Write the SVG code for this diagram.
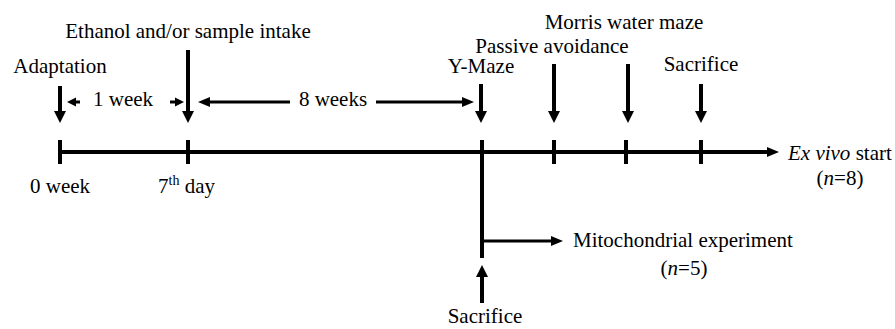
<svg xmlns="http://www.w3.org/2000/svg" xmlns:xlink="http://www.w3.org/1999/xlink" width="895" height="329" viewBox="0 0 895 329">
<style>
text{font-family:"Liberation Serif","Times New Roman",serif;font-size:21px;fill:#000}
.m{text-anchor:middle}
.ln{stroke:#000;stroke-width:4;fill:none}
.th{stroke:#000;stroke-width:3;fill:none}
.ah{fill:#000}
</style>
<defs>
<polygon id="ahd" class="ah" points="0,0 -6,-12 6,-12"/>
<polygon id="ahu" class="ah" points="0,0 -6,12 6,12"/>
<polygon id="ahr" class="ah" points="0,0 -12,-5 -12,5"/>
<polygon id="ahl" class="ah" points="0,0 12,-5 12,5"/>
<polygon id="ahrs" class="ah" points="0,0 -9,-4.5 -9,4.5"/>
<polygon id="ahls" class="ah" points="0,0 9,-4.5 9,4.5"/>
</defs>
<g id="connectors">
<line class="ln" x1="60" y1="152" x2="767" y2="152"/>
<use xlink:href="#ahr" x="779" y="152"/>
<line class="ln" x1="60" y1="140" x2="60" y2="164"/>
<line class="ln" x1="188" y1="140" x2="188" y2="164"/>
<line class="ln" x1="482" y1="140" x2="482" y2="258"/>
<line class="ln" x1="554" y1="140" x2="554" y2="164"/>
<line class="ln" x1="626" y1="140" x2="626" y2="164"/>
<line class="ln" x1="701" y1="140" x2="701" y2="164"/>
<line class="ln" x1="60" y1="86" x2="60" y2="112"/>
<use xlink:href="#ahd" x="60" y="123"/>
<line class="ln" x1="188" y1="50" x2="188" y2="112"/>
<use xlink:href="#ahd" x="188" y="123"/>
<line class="ln" x1="481" y1="84" x2="481" y2="112"/>
<use xlink:href="#ahd" x="481" y="123"/>
<line class="ln" x1="554" y1="64" x2="554" y2="112"/>
<use xlink:href="#ahd" x="554" y="123"/>
<line class="ln" x1="628" y1="64" x2="628" y2="112"/>
<use xlink:href="#ahd" x="628" y="123"/>
<line class="ln" x1="701" y1="84" x2="701" y2="112"/>
<use xlink:href="#ahd" x="701" y="123"/>
<line class="th" x1="75" y1="102" x2="80" y2="102"/>
<use xlink:href="#ahls" x="67" y="102"/>
<line class="th" x1="170" y1="102" x2="176" y2="102"/>
<use xlink:href="#ahrs" x="184" y="102"/>
<line class="th" x1="208" y1="102" x2="290" y2="102"/>
<use xlink:href="#ahl" x="198" y="102"/>
<line class="th" x1="376" y1="102" x2="463" y2="102"/>
<use xlink:href="#ahr" x="474" y="102"/>
<line class="th" x1="482" y1="241" x2="552" y2="241"/>
<use xlink:href="#ahr" x="563" y="241"/>
<line class="ln" x1="482" y1="276" x2="482" y2="303"/>
<use xlink:href="#ahu" x="482" y="265"/>
</g>
<g id="adaptation"><text class="m" x="60" y="73">Adaptation</text></g>
<g id="ethanol"><text class="m" x="188" y="38">Ethanol and/or sample intake</text></g>
<g id="ymaze"><text class="m" x="481" y="73">Y-Maze</text></g>
<g id="passive"><text class="m" x="552" y="53">Passive avoidance</text></g>
<g id="morris"><text class="m" x="624" y="29">Morris water maze</text></g>
<g id="sacrifice1"><text class="m" x="701" y="71">Sacrifice</text></g>
<g id="week1"><text class="m" x="123" y="106">1 week</text></g>
<g id="week8"><text class="m" x="333" y="106">8 weeks</text></g>
<g id="week0"><text class="m" x="60" y="193">0 week</text></g>
<g id="day7"><text x="158" y="193">7<tspan font-size="14" dy="-8">th</tspan><tspan dy="8"> day</tspan></text></g>
<g id="exvivo"><text x="788" y="160"><tspan font-style="italic">Ex vivo</tspan> start</text><text class="m" x="840" y="185">(<tspan font-style="italic">n</tspan>=8)</text></g>
<g id="mito"><text x="573" y="247">Mitochondrial experiment</text><text class="m" x="684" y="275">(<tspan font-style="italic">n</tspan>=5)</text></g>
<g id="sacrifice2"><text class="m" x="485" y="323">Sacrifice</text></g>
</svg>
